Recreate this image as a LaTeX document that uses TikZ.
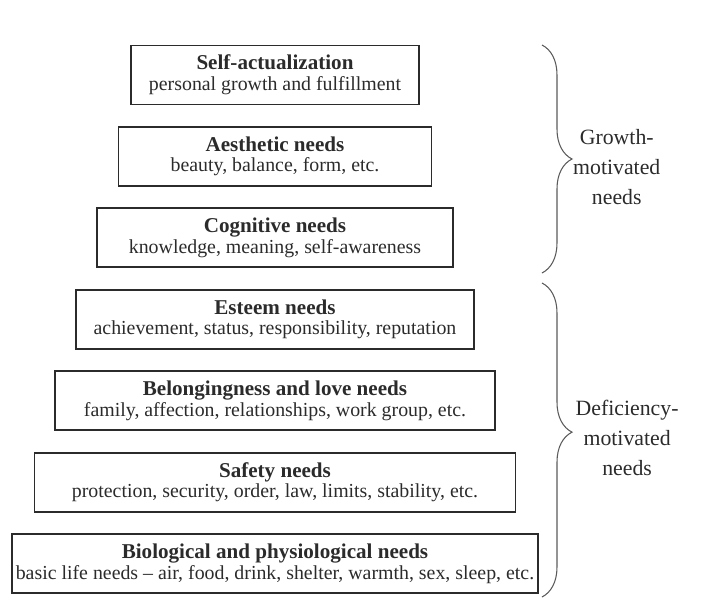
\documentclass[tikz,border=0pt]{standalone}
\usepackage{fontspec}
\setmainfont{Liberation Serif}
\usepackage{xcolor}
\usepackage{tikz}
\usetikzlibrary{positioning,decorations.pathreplacing,calc}

\definecolor{inkgray}{HTML}{2B2B2B}
\definecolor{bracegray}{HTML}{5A5A5A}

\newcommand{\needtitle}[1]{{\fontsize{12}{12}\selectfont\bfseries #1}}

\begin{document}
\begin{tikzpicture}[
    node distance=0.41cm,
    level/.style={rectangle, draw=inkgray, line width=1.1pt, text=inkgray, align=center, minimum height=1.18cm, inner sep=2pt, font=\fontsize{11.3}{11.8}\selectfont},
    group/.style={align=center, text=inkgray, font=\fontsize{12.4}{17}\selectfont},
    curly/.style={decorate, decoration={brace, amplitude=0.6cm}, draw=bracegray, line width=0.6pt}
]
\useasboundingbox (0,0) rectangle (14.1,-12.32);

% Needs, top of the hierarchy first
\node[level, minimum width=5.76cm] (selfact) at (5.5,-1.5) {\needtitle{Self-actualization}\\personal growth and fulfillment};
\node[level, minimum width=6.26cm, below=of selfact] (aesthetic) {\needtitle{Aesthetic needs}\\beauty, balance, form, etc.};
\node[level, minimum width=7.12cm, below=of aesthetic] (cognitive) {\needtitle{Cognitive needs}\\knowledge, meaning, self-awareness};
\node[level, minimum width=7.96cm, below=of cognitive] (esteem) {\needtitle{Esteem needs}\\achievement, status, responsibility, reputation};
\node[level, minimum width=8.80cm, below=of esteem] (belonging) {\needtitle{Belongingness and love needs}\\family, affection, relationships, work group, etc.};
\node[level, minimum width=9.62cm, below=of belonging] (safety) {\needtitle{Safety needs}\\protection, security, order, law, limits, stability, etc.};
\node[level, minimum width=10.52cm, below=of safety] (biological) {\needtitle{Biological and physiological needs}\\basic life needs -- air, food, drink, shelter, warmth, sex, sleep, etc.};

% Braces
\coordinate (gtop) at (10.84,-0.9);
\coordinate (gbot) at (10.84,-5.46);
\coordinate (dtop) at (10.84,-5.66);
\coordinate (dbot) at (10.84,-11.94);
\draw[curly] (gtop) -- (gbot);
\draw[curly, decoration={aspect=0.475}] (dtop) -- (dbot);

% Groups
\node[group, right=0.5cm of $(gtop)!0.5!(gbot)$, yshift=-0.16cm] (growth) {Growth-\\motivated\\needs};
\node[group, right=0.55cm of $(dtop)!0.475!(dbot)$, yshift=-0.12cm] (deficiency) {Deficiency-\\motivated\\needs};

\end{tikzpicture}
\end{document}
